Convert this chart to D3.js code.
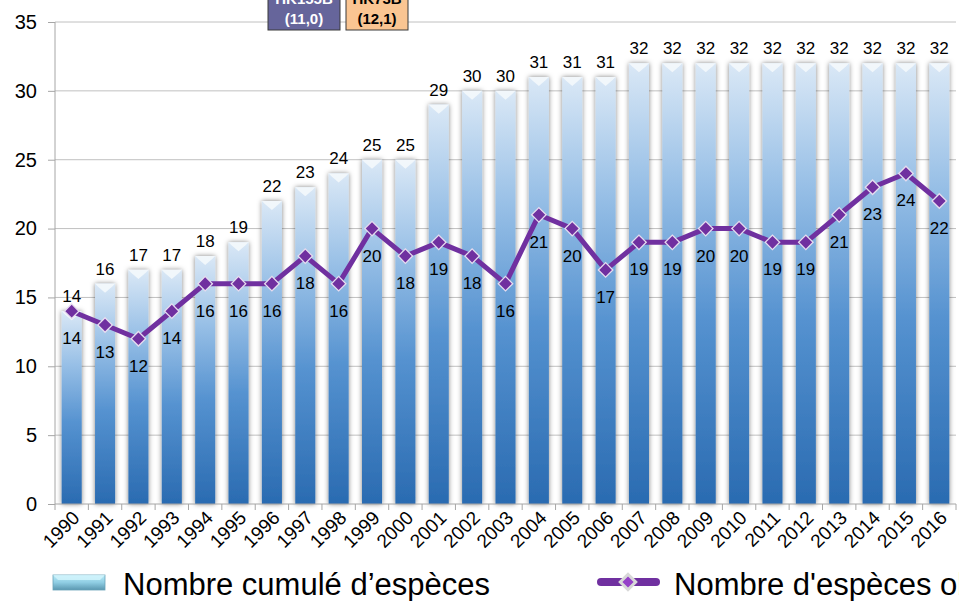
<!DOCTYPE html>
<meta charset="UTF-8">

<head>
    <script src="https://d3js.org/d3.v7.min.js"></script>
    <style>
        body { margin: 0; background: #fff; }
        text { font-family: "Liberation Sans", Arial, sans-serif; fill: #000; }
        .grid line { stroke: #c0c0c0; stroke-width: 1px; }
        .axis path, .axis line { stroke: #a6a6a6; }
        .axis text { font-size: 19px; }
        .yaxis text { font-size: 20px; }
        .vlabel { font-size: 17px; text-anchor: middle; }
    </style>
</head>

<body>
    <script>
        // data
        var years = [1990, 1991, 1992, 1993, 1994, 1995, 1996, 1997, 1998, 1999, 2000, 2001, 2002,
            2003, 2004, 2005, 2006, 2007, 2008, 2009, 2010, 2011, 2012, 2013, 2014, 2015, 2016];
        var cumulated = [14, 16, 17, 17, 18, 19, 22, 23, 24, 25, 25, 29, 30, 30, 31, 31, 31,
            32, 32, 32, 32, 32, 32, 32, 32, 32, 32];
        var observed = [14, 13, 12, 14, 16, 16, 16, 18, 16, 20, 18, 19, 18, 16, 21, 20, 17,
            19, 19, 20, 20, 19, 19, 21, 23, 24, 22];
        var yTicks = [0, 5, 10, 15, 20, 25, 30, 35];
        var boxes = [
            { name: "HK155B", sub: "(11,0)", fill: "#66659b", color: "#fff" },
            { name: "HK73B", sub: "(12,1)", fill: "#fac592", color: "#000" }
        ];
        var legendBar = "Nombre cumulé d’espèces";
        var legendLine = "Nombre d'espèces observées";

        var W = 959, H = 601;
        var margin = { top: 22, right: 3, bottom: 97, left: 55 };
        var width = W - margin.left - margin.right,
            height = H - margin.top - margin.bottom;

        var svg = d3.select("body").append("svg")
            .attr("width", W)
            .attr("height", H);

        var defs = svg.append("defs");

        var grad = defs.append("linearGradient")
            .attr("id", "barGrad")
            .attr("x1", 0).attr("y1", 0).attr("x2", 0).attr("y2", 1);
        grad.append("stop").attr("offset", "0%").attr("stop-color", "#dae8f6");
        grad.append("stop").attr("offset", "28%").attr("stop-color", "#97bfe6");
        grad.append("stop").attr("offset", "58%").attr("stop-color", "#5592d0");
        grad.append("stop").attr("offset", "100%").attr("stop-color", "#2a6bb1");

        var lgrad = defs.append("linearGradient")
            .attr("id", "legGrad")
            .attr("x1", 0).attr("y1", 0).attr("x2", 0).attr("y2", 1);
        lgrad.append("stop").attr("offset", "0%").attr("stop-color", "#b9ecf8");
        lgrad.append("stop").attr("offset", "50%").attr("stop-color", "#8fcde3");
        lgrad.append("stop").attr("offset", "100%").attr("stop-color", "#5a97b0");

        var shadow = defs.append("filter").attr("id", "shadow")
            .attr("x", "-50%").attr("y", "-10%").attr("width", "200%").attr("height", "120%");
        shadow.append("feDropShadow")
            .attr("dx", 0).attr("dy", 0).attr("stdDeviation", 2.4)
            .attr("flood-color", "#000").attr("flood-opacity", 0.5);

        var g = svg.append("g")
            .attr("transform", "translate(" + margin.left + "," + margin.top + ")");

        var x = d3.scaleBand().domain(years).range([0, width]).paddingInner(0.4).paddingOuter(0.2);
        var y = d3.scaleLinear().domain([0, 35]).range([height, 0]);

        // gridlines
        g.append("g").attr("class", "grid")
            .selectAll("line")
            .data(yTicks.slice(1))
            .enter().append("line")
            .attr("x1", 0).attr("x2", width)
            .attr("y1", function (d) { return y(d); })
            .attr("y2", function (d) { return y(d); });

        // y axis
        var yAxis = g.append("g").attr("class", "axis yaxis")
            .call(d3.axisLeft(y).tickValues(yTicks).tickSize(7).tickPadding(11));
        yAxis.select(".domain").attr("d", "M0," + height + "V0");

        // bars
        var bars = g.append("g").selectAll("g.bar")
            .data(years)
            .enter().append("g").attr("class", "bar");

        bars.append("rect")
            .attr("x", function (d) { return x(d); })
            .attr("y", function (d, i) { return y(cumulated[i]); })
            .attr("width", x.bandwidth())
            .attr("height", function (d, i) { return height - y(cumulated[i]); })
            .attr("fill", "url(#barGrad)")
            .attr("filter", "url(#shadow)");

        // bevel on top of each bar
        bars.append("path")
            .attr("d", function (d, i) {
                var x0 = x(d), x1 = x(d) + x.bandwidth(), t = y(cumulated[i]);
                var xm = x0 + x.bandwidth() / 2;
                return "M" + x0 + "," + t + "L" + x1 + "," + t + "L" + (x1 - 3) + "," + (t + 3)
                    + "L" + xm + "," + (t + 9) + "L" + (x0 + 3) + "," + (t + 3) + "Z";
            })
            .attr("fill", "#f4f8fc")
            .attr("opacity", 0.9);

        // x axis
        var xAxis = g.append("g").attr("class", "axis")
            .attr("transform", "translate(0," + height + ")");
        xAxis.append("line").attr("x1", 0).attr("x2", width).attr("stroke", "#a6a6a6");
        xAxis.selectAll("line.tick")
            .data(years.concat([null]))
            .enter().append("line").attr("class", "tick")
            .attr("x1", function (d, i) { return i * x.step(); })
            .attr("x2", function (d, i) { return i * x.step(); })
            .attr("y1", 0).attr("y2", 6);
        xAxis.selectAll("text")
            .data(years)
            .enter().append("text")
            .attr("text-anchor", "end")
            .attr("transform", function (d) {
                return "translate(" + (x(d) + x.bandwidth() / 2 + 9) + ",15) rotate(-45)";
            })
            .text(function (d) { return d; });

        // cumulated labels
        g.append("g").selectAll("text")
            .data(years)
            .enter().append("text").attr("class", "vlabel")
            .attr("x", function (d) { return x(d) + x.bandwidth() / 2; })
            .attr("y", function (d, i) { return y(cumulated[i]) - 9; })
            .text(function (d, i) { return cumulated[i]; });

        // observed line
        var line = d3.line()
            .x(function (d, i) { return x(years[i]) + x.bandwidth() / 2; })
            .y(function (d) { return y(d); });

        g.append("path")
            .datum(observed)
            .attr("d", line)
            .attr("fill", "none")
            .attr("stroke", "#7030a0")
            .attr("stroke-width", 5)
            .attr("stroke-linejoin", "round");

        // square markers turned 45 degrees
        var diamond = d3.symbol().type(d3.symbolSquare).size(105);
        g.append("g").selectAll("path")
            .data(observed)
            .enter().append("path")
            .attr("d", diamond)
            .attr("transform", function (d, i) {
                return "translate(" + (x(years[i]) + x.bandwidth() / 2) + "," + y(d) + ") rotate(45)";
            })
            .attr("fill", "#7030a0")
            .attr("stroke", "#e6dcef")
            .attr("stroke-width", 1.3);

        g.append("g").selectAll("text")
            .data(observed)
            .enter().append("text").attr("class", "vlabel")
            .attr("x", function (d, i) { return x(years[i]) + x.bandwidth() / 2; })
            .attr("y", function (d) { return y(d) + 33; })
            .text(function (d) { return d; });

        // header boxes (cut off by the top edge, as in the original)
        var bx = svg.selectAll("g.box")
            .data(boxes)
            .enter().append("g").attr("class", "box")
            .attr("transform", function (d, i) { return "translate(" + (268 + i * 78) + ",0)"; });
        bx.append("rect")
            .attr("x", 0).attr("y", -12)
            .attr("width", function (d, i) { return i === 0 ? 72 : 62; })
            .attr("height", 42)
            .attr("fill", function (d) { return d.fill; })
            .attr("stroke", "#3a3a3a").attr("stroke-width", 1);
        bx.append("text")
            .attr("x", function (d, i) { return i === 0 ? 36 : 31; })
            .attr("y", 4)
            .attr("text-anchor", "middle")
            .style("font-size", "15px").style("font-weight", "bold")
            .style("fill", function (d) { return d.color; })
            .text(function (d) { return d.name; });
        bx.append("text")
            .attr("x", function (d, i) { return i === 0 ? 36 : 31; })
            .attr("y", 24)
            .attr("text-anchor", "middle")
            .style("font-size", "15px").style("font-weight", "bold")
            .style("fill", function (d) { return d.color; })
            .text(function (d) { return d.sub; });

        // legend
        var leg = svg.append("g");
        leg.append("rect")
            .attr("x", 53).attr("y", 575).attr("width", 52).attr("height", 15)
            .attr("fill", "url(#legGrad)").attr("stroke", "#6aa3b8").attr("stroke-width", 0.8);
        leg.append("path")
            .attr("d", "M53,575L105,575L100,580L58,580Z")
            .attr("fill", "#d5f5fc").attr("opacity", 0.8);
        leg.append("text")
            .attr("x", 123).attr("y", 595)
            .style("font-size", "31px")
            .text(legendBar);

        leg.append("line")
            .attr("x1", 601).attr("x2", 656).attr("y1", 582).attr("y2", 582)
            .attr("stroke", "#7030a0").attr("stroke-width", 8).attr("stroke-linecap", "round");
        leg.append("path")
            .attr("d", d3.symbol().type(d3.symbolSquare).size(120))
            .attr("transform", "translate(628,582) rotate(45)")
            .attr("fill", "#9540c8").attr("stroke", "#d8d8d8").attr("stroke-width", 3);
        leg.append("text")
            .attr("x", 674).attr("y", 595)
            .style("font-size", "31px")
            .text(legendLine);
    </script>
</body>
